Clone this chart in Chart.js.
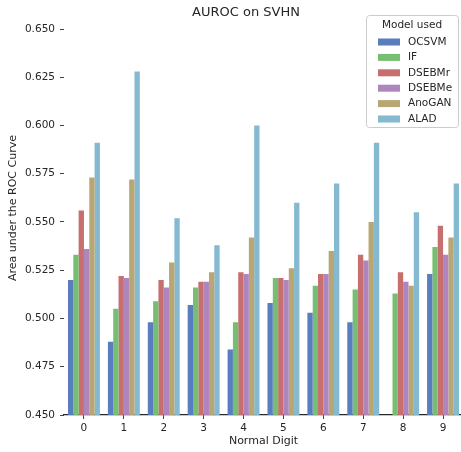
<!DOCTYPE html>
<html>
<head>
<meta charset="utf-8">
<script src="https://cdn.jsdelivr.net/npm/chart.js@4.4.1/dist/chart.umd.min.js"></script>
<style>
  html, body { margin: 0; padding: 0; background: #fff; overflow: hidden; }
  #wrap { position: absolute; left: 0; top: 0; width: 463px; height: 452px; }
</style>
</head>
<body>
<div id="wrap"><canvas id="chart" width="463" height="452"></canvas></div>
<script>
// digits used as the "normal" class
const digits = ['0', '1', '2', '3', '4', '5', '6', '7', '8', '9'];

// AUROC per model
const ocsvm  = [0.520, 0.488, 0.498, 0.507, 0.484, 0.508, 0.503, 0.498, null,  0.523];
const iforest = [0.533, 0.505, 0.509, 0.516, 0.498, 0.521, 0.517, 0.515, 0.513, 0.537];
const dsebmR = [0.556, 0.522, 0.520, 0.519, 0.524, 0.521, 0.523, 0.533, 0.524, 0.548];
const dsebmE = [0.536, 0.521, 0.516, 0.519, 0.523, 0.520, 0.523, 0.530, 0.519, 0.533];
const anogan = [0.573, 0.572, 0.529, 0.524, 0.542, 0.526, 0.535, 0.550, 0.517, 0.542];
const alad   = [0.591, 0.628, 0.552, 0.538, 0.600, 0.560, 0.570, 0.591, 0.555, 0.570];

const modelNames = ['OCSVM', 'IF', 'DSEBMr', 'DSEBMe', 'AnoGAN', 'ALAD'];
const modelColors = ['#597dbe', '#76bf72', '#c76e6e', '#af85be', '#b8a772', '#84b9cf'];

// y axis range / tick step
const yMin = 0.45;
const yMax = 0.65;
const yStep = 0.025;

const textColor = '#262626';
const font = 'DejaVu Sans';

const series = [ocsvm, iforest, dsebmR, dsebmE, anogan, alad];

// title and y label sit a bit off the plot centre in the original
const labelText = {
  id: 'labelText',
  afterDraw(chart) {
    const ctx = chart.ctx;
    ctx.save();
    ctx.fillStyle = textColor;
    ctx.textAlign = 'center';
    ctx.textBaseline = 'middle';
    ctx.font = '13px "' + font + '"';
    ctx.fillText('AUROC on SVHN', 246, 12.5);

    ctx.font = '11px "' + font + '"';
    ctx.translate(13.5, 208);
    ctx.rotate(-Math.PI / 2);
    ctx.fillText('Area under the ROC Curve', 0, 0);
    ctx.restore();
  }
};

// legend drawn inside the plot, top right (like seaborn's)
const boxLegend = {
  id: 'boxLegend',
  afterDraw(chart) {
    const ctx = chart.ctx;
    const x0 = 366, y0 = 15, w = 92, h = 112;
    ctx.save();
    ctx.fillStyle = 'rgba(255,255,255,0.85)';
    ctx.strokeStyle = '#cccccc';
    ctx.lineWidth = 1;
    ctx.beginPath();
    ctx.roundRect(x0 + 0.5, y0 + 0.5, w, h, 3);
    ctx.fill();
    ctx.stroke();

    ctx.fillStyle = textColor;
    ctx.font = '10.5px "' + font + '"';
    ctx.textBaseline = 'middle';
    ctx.textAlign = 'center';
    ctx.fillText('Model used', x0 + w / 2, y0 + 10);

    ctx.textAlign = 'left';
    chart.data.datasets.forEach((ds, i) => {
      const y = y0 + 27 + i * 15.4;
      ctx.fillStyle = ds.backgroundColor;
      ctx.fillRect(378, y - 3.5, 22, 7);
      ctx.fillStyle = textColor;
      ctx.fillText(ds.label, 408, y);
    });
    ctx.restore();
  }
};

new Chart(document.getElementById('chart'), {
  type: 'bar',
  data: {
    labels: digits,
    datasets: series.map((vals, i) => ({
      label: modelNames[i],
      data: vals,
      backgroundColor: modelColors[i],
      borderWidth: 0,
      categoryPercentage: 0.8,
      barPercentage: 1.0
    }))
  },
  options: {
    responsive: false,
    animation: false,
    devicePixelRatio: 1,
    layout: { padding: { left: 0, right: 0, top: 29, bottom: 0 } },
    plugins: {
      legend: { display: false },
      tooltip: { enabled: false },
      title: { display: false }
    },
    scales: {
      x: {
        z: 1, // spine on top of the bars, as in matplotlib
        border: { display: true, color: textColor, width: 1.2 },
        grid: { display: true, offset: false, drawOnChartArea: false, drawTicks: true, tickLength: 4, color: '#444' },
        ticks: { color: textColor, font: { family: font, size: 10.5 }, padding: 3, maxRotation: 0 },
        title: {
          display: true,
          text: 'Normal Digit',
          color: textColor,
          font: { family: font, size: 11 },
          padding: { top: 2, bottom: 4 }
        },
        afterFit(scale) { scale.height = 37; }
      },
      y: {
        min: yMin,
        max: yMax,
        border: { display: false },
        grid: { display: true, drawOnChartArea: false, drawTicks: true, tickLength: 4, color: '#444' },
        ticks: {
          stepSize: yStep,
          color: textColor,
          font: { family: font, size: 10.5 },
          padding: 5,
          callback: (v) => v.toFixed(3)
        },
        afterFit(scale) { scale.width = 64; }
      }
    }
  },
  plugins: [labelText, boxLegend]
});
</script>
</body>
</html>
